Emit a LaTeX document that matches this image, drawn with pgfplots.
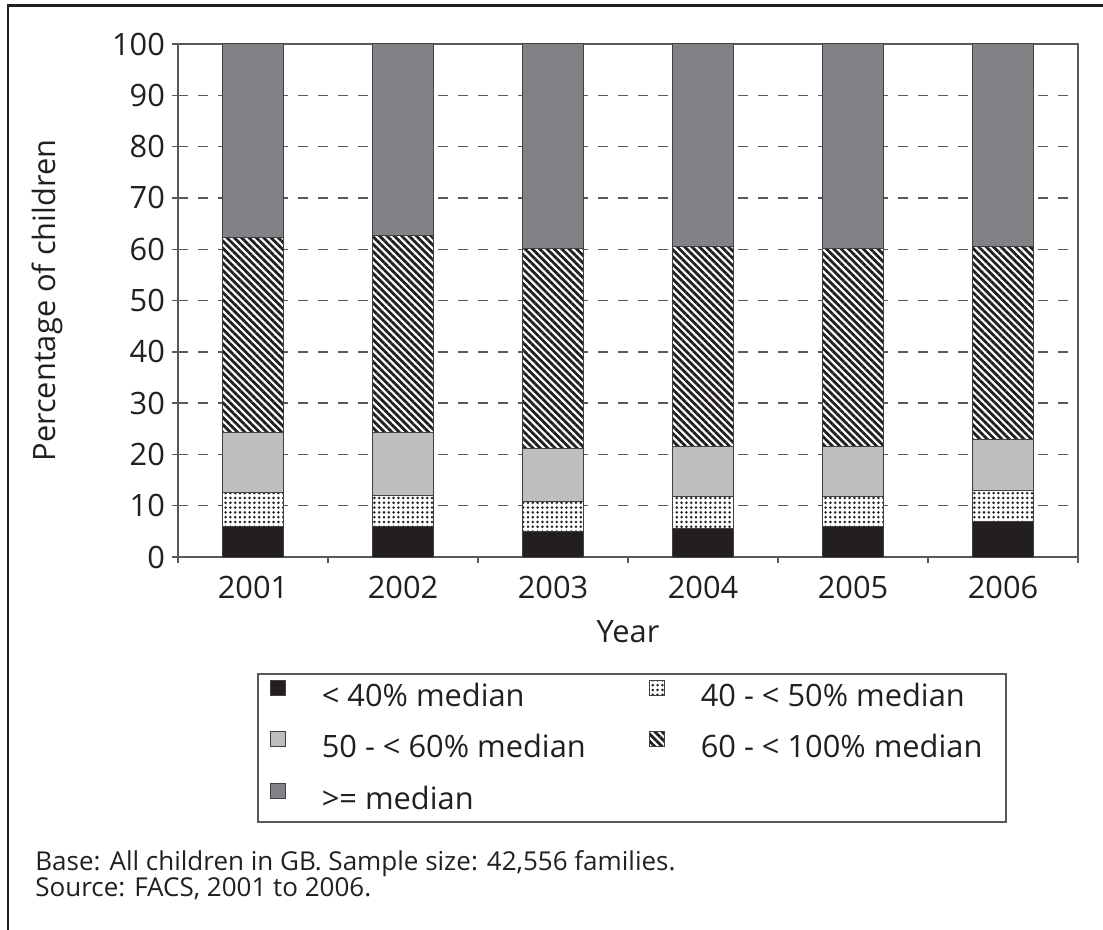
\documentclass[border=0pt]{standalone}
\usepackage{fontspec}
\setmainfont{Open Sans}
\usepackage{pgfplots}
\usepackage{pgfplotstable}
\pgfplotsset{compat=1.18}
\usetikzlibrary{patterns.meta}
\definecolor{cblack}{HTML}{231F20}
\definecolor{clight}{HTML}{BCBEC0}
\definecolor{cdark}{HTML}{808285}
\definecolor{cgrid}{HTML}{58595B}
\definecolor{cedge}{HTML}{414042}

\pgfplotstableread{
x black dots light hatch dark
0 6.0 6.5 11.7 38.1 37.7
1 6.0 6.0 12.2 38.5 37.3
2 4.9 6.0 10.2 39.0 39.9
3 5.5 6.2 9.9 39.0 39.4
4 6.0 5.7 9.9 38.5 39.9
5 7.0 6.0 9.9 37.7 39.4
}\datatable

\begin{document}
\begin{tikzpicture}
\path[use as bounding box] (0,0) rectangle (551.5pt,-465pt);
\draw[line width=1.3pt, color=cblack] (551.5pt,-2.8pt) -- (4pt,-2.8pt) -- (4pt,-465pt);
\begin{axis}[
  at={(89pt,-278.5pt)}, anchor=south west,
  scale only axis, width=450pt, height=256.5pt,
  ybar stacked, bar width=30.5pt,
  xmin=-0.5, xmax=5.5, ymin=0, ymax=100,
  xtick={-0.5,0.5,...,5.5}, xticklabels={},
  extra x ticks={0,1,2,3,4,5},
  extra x tick labels={2001,2002,2003,2004,2005,2006},
  extra x tick style={major tick length=0pt},
  xticklabel style={yshift=-6pt},
  ytick={0,10,...,100},
  tick align=outside, tick pos=left, major tick length=3pt,
  ymajorgrids,
  grid style={cgrid, line width=0.7pt, dash pattern=on 5pt off 5pt},
  axis line style={cgrid, line width=0.7pt},
  tick style={cgrid, line width=0.7pt},
  every tick label/.append style={font=\fontsize{15.4}{18}\selectfont, text=cblack},
  /pgf/number format/assume math mode=true,
  xlabel={Year}, ylabel={Percentage of children},
  label style={font=\fontsize{15.4}{18}\selectfont, text=cblack},
  xlabel style={at={(axis description cs:0.5,-0.1462)}, anchor=center},
  ylabel style={at={(axis description cs:-0.1456,0.5)}, anchor=center},
  legend columns=2,
  legend cell align=left,
  legend image code/.code={\draw[#1] (0pt,1.75pt) rectangle (7.5pt,9.25pt);},
  legend style={
    at={(axis description cs:0.0878,-0.2261)}, anchor=north west,
    draw=cgrid, line width=0.8pt,
    inner xsep=6pt, inner ysep=3pt, row sep=9pt,
    font=\fontsize{15.4}{18}\selectfont, text=cblack,
    nodes={inner xsep=0pt, inner ysep=0pt, text height=11pt, text depth=3.5pt},
    /tikz/every odd column/.append style={column sep=18pt},
  },
]
\addplot[fill=cblack, draw=cedge, line width=0.5pt] table[x=x, y=black] {\datatable};
\addlegendentry{\makebox[163.5pt][l]{< 40\% median}}
\addplot[fill=white, draw=cedge, line width=0.5pt,
  postaction={pattern={Dots[distance=2.4pt, radius=0.7pt]}, pattern color=cblack}] table[x=x, y=dots] {\datatable};
\addlegendentry{\makebox[146.5pt][l]{40 - < 50\% median}}
\addplot[fill=clight, draw=cedge, line width=0.5pt] table[x=x, y=light] {\datatable};
\addlegendentry{\makebox[163.5pt][l]{50 - < 60\% median}}
\addplot[fill=white, draw=cedge, line width=0.5pt,
  postaction={pattern={Lines[angle=-45, distance=2.6pt, line width=1.4pt]}, pattern color=cblack}] table[x=x, y=hatch] {\datatable};
\addlegendentry{\makebox[146.5pt][l]{60 - < 100\% median}}
\addplot[fill=cdark, draw=cedge, line width=0.5pt] table[x=x, y=dark] {\datatable};
\addlegendentry{\makebox[163.5pt][l]{>= median}}
\end{axis}
\node[anchor=north west, align=left, inner sep=0pt, text=cblack,
  font=\fontsize{13}{13}\selectfont] at (17.5pt,-425pt)
  {Base: All children in GB. Sample size: 42,556 families.\\Source: FACS, 2001 to 2006.};
\end{tikzpicture}
\end{document}
